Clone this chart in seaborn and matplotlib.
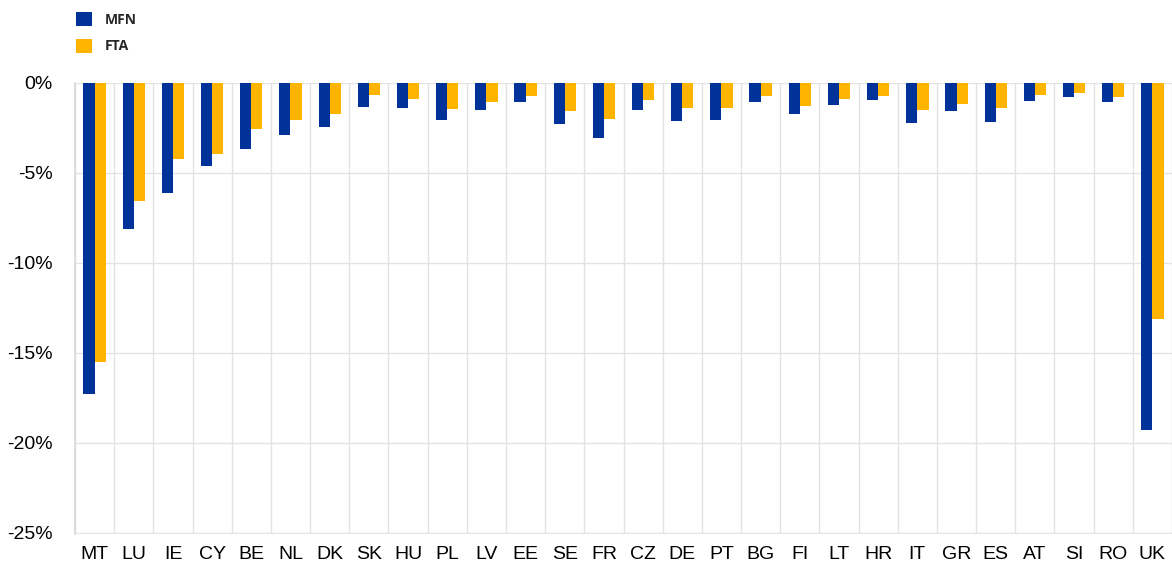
import matplotlib
matplotlib.use("Agg")
import matplotlib.pyplot as plt
import matplotlib.ticker as mticker
import numpy as np
import pandas as pd
import seaborn as sns

# values (% change)
countries = ['MT', 'LU', 'IE', 'CY', 'BE', 'NL', 'DK', 'SK', 'HU', 'PL', 'LV', 'EE', 'SE', 'FR',
             'CZ', 'DE', 'PT', 'BG', 'FI', 'LT', 'HR', 'IT', 'GR', 'ES', 'AT', 'SI', 'RO', 'UK']
mfn = [-17.3, -8.1, -6.1, -4.65, -3.7, -2.9, -2.45, -1.35, -1.4, -2.1, -1.5, -1.05, -2.3, -3.1,
       -1.5, -2.15, -2.1, -1.05, -1.75, -1.25, -0.95, -2.25, -1.55, -2.2, -1.0, -0.8, -1.05, -19.3]
fta = [-15.5, -6.55, -4.25, -3.95, -2.55, -2.1, -1.75, -0.7, -0.9, -1.45, -1.1, -0.75, -1.6, -2.0,
       -0.95, -1.4, -1.4, -0.75, -1.3, -0.9, -0.75, -1.5, -1.2, -1.4, -0.7, -0.55, -0.8, -13.1]
y_ticks = [0, -5, -10, -15, -20, -25]

df = pd.DataFrame({'country': countries * 2,
                   'scenario': ['MFN'] * len(countries) + ['FTA'] * len(countries),
                   'value': mfn + fta})

sns.set_theme(style='white')
plt.rcParams['font.family'] = ['Liberation Sans', 'DejaVu Sans']

fig = plt.figure(figsize=(11.72, 5.7), dpi=100)
ax = fig.add_axes([0.064, 0.064, 0.936, 0.791])

sns.barplot(df, x='country', y='value', hue='scenario', order=countries,
            hue_order=['MFN', 'FTA'], palette={'MFN': '#003299', 'FTA': '#FFB400'},
            saturation=1, width=0.57, linewidth=0, ax=ax, legend=True)

ax.set_ylim(-25.03, 0)
ax.set_xlim(-0.5, len(countries) - 0.5)
ax.set_yticks(y_ticks)
ax.yaxis.set_major_formatter(mticker.FuncFormatter(lambda v, p: f"{int(round(v))}%".replace('\u2212', '-')))
ax.set_xticks(np.arange(-0.5, len(countries), 1), minor=True)
ax.grid(axis='y', which='major', color='#e3e3e3', linewidth=1)
ax.grid(axis='x', which='minor', color='#e3e3e3', linewidth=1)
ax.set_axisbelow(True)
ax.tick_params(axis='both', which='both', length=0, labelsize=14, colors='black')
ax.tick_params(axis='y', pad=16)
ax.tick_params(axis='x', pad=9)
ax.set_xlabel('')
ax.set_ylabel('')
for s in ['top', 'right', 'bottom']:
    ax.spines[s].set_visible(False)
ax.spines['left'].set_color('#d9d9d9')

handles, labels = ax.get_legend_handles_labels()
ax.legend_.remove()
fig.legend(handles, labels, loc='upper left', bbox_to_anchor=(0.054, 1.0), frameon=False,
           handlelength=1.15, handleheight=1.15, handletextpad=0.95, labelspacing=0.85,
           prop={'family': ['Open Sans', 'DejaVu Sans'], 'size': 10, 'weight': 'bold'})

fig.savefig('out.png', dpi=100)
